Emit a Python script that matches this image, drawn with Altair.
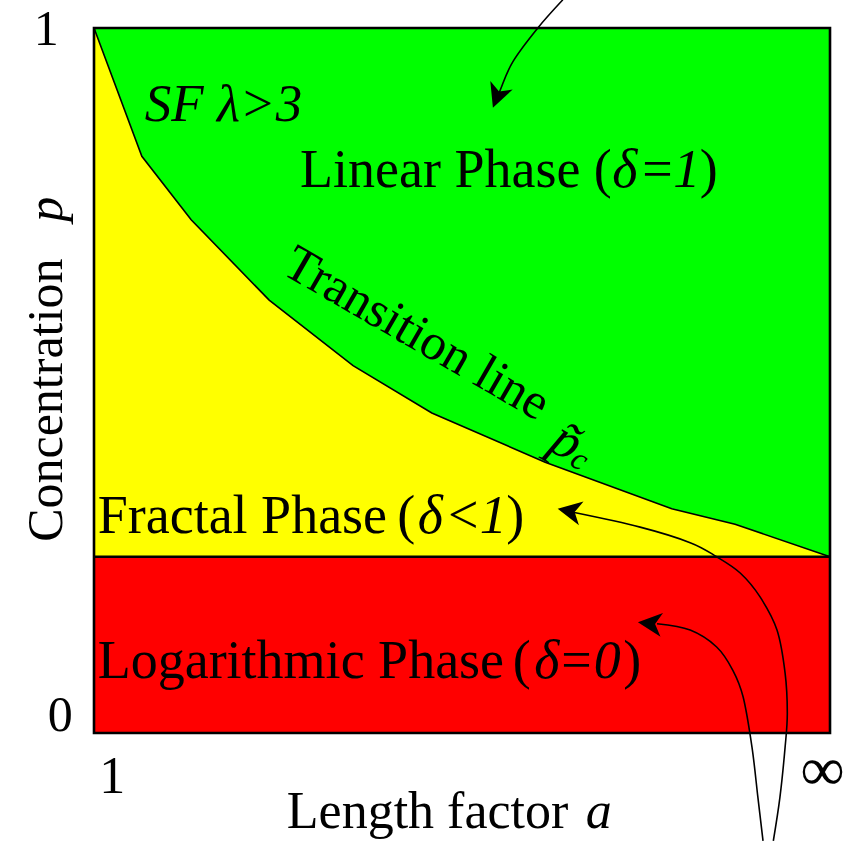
import altair as alt
import pandas as pd

# ---------------- data ----------------
length_factor = [0.0, 0.065, 0.132, 0.238, 0.352, 0.459, 0.613, 0.785, 0.871, 1.0]
transition_p = [1.0, 0.818, 0.728, 0.614, 0.521, 0.454, 0.384, 0.318, 0.296, 0.25]
log_phase_top = 0.25
x_range = [0.0, 1.0]
p_range = [0.0, 1.0]
x_tick_labels = ["1", "∞"]
y_tick_labels = ["0", "1"]

# annotation arrows (in data units of the axes)
arrow_top_x = [0.637, 0.603, 0.569, 0.552, 0.545]
arrow_top_p = [1.040, 1.000, 0.952, 0.912, 0.892]
arrow_frac_x = [0.923, 0.932, 0.939, 0.942, 0.939, 0.928, 0.905, 0.878, 0.846, 0.810, 0.742, 0.651]
arrow_frac_p = [-0.153, -0.091, -0.020, 0.028, 0.085, 0.146, 0.193, 0.227, 0.250, 0.270, 0.292, 0.313]
arrow_log_x = [0.909, 0.902, 0.894, 0.882, 0.868, 0.846, 0.810, 0.765]
arrow_log_p = [-0.153, -0.091, -0.020, 0.051, 0.089, 0.122, 0.146, 0.155]

FONT = "Liberation Serif"
W, H = 736, 705

xs = alt.Scale(domain=x_range, nice=False, zero=False)
ys = alt.Scale(domain=p_range, nice=False, zero=False)
one = pd.DataFrame({"k": [0]})


def xd(v):
    return alt.XDatum(v, scale=xs, axis=None)


def yd(v):
    return alt.YDatum(v, scale=ys, axis=None)


def label(text, x, p, size=54, align="left", baseline="alphabetic", style="normal", angle=0):
    return alt.Chart(one).mark_text(
        text=text, font=FONT, fontSize=size, align=align, baseline=baseline,
        fontStyle=style, angle=angle, color="black"
    ).encode(x=xd(x), y=yd(p))


def phrase(parts, p, size=54):
    # parts: list of (text, x, style)
    return [label(t, x, p, size=size, style=s) for t, x, s in parts]


def curve(xv, pv):
    df = pd.DataFrame({"x": xv, "p": pv, "i": list(range(len(xv)))})
    return alt.Chart(df).mark_line(interpolate="cardinal", color="black", strokeWidth=1.6).encode(
        x=alt.X("x:Q", scale=xs, axis=None),
        y=alt.Y("p:Q", scale=ys, axis=None),
        order="i:Q",
    )


HEAD = "M0,0 L-1,-0.5 L-0.72,0 L-1,0.5 Z"


def head(x, p, angle):
    return alt.Chart(one).mark_point(
        shape=HEAD, size=2300, angle=angle, filled=True, color="black", opacity=1, strokeWidth=0
    ).encode(x=xd(x), y=yd(p))


def rect_df(x0, x1, y0, y1):
    return pd.DataFrame({"x0": [x0], "x1": [x1], "y0": [y0], "y1": [y1]})


def region(df, color, **kw):
    return alt.Chart(df).mark_rect(color=color, **kw).encode(
        x=alt.X("x0:Q", scale=xs, axis=None), x2="x1:Q",
        y=alt.Y("y0:Q", scale=ys, axis=None), y2="y1:Q",
    )


green = region(rect_df(x_range[0], x_range[1], p_range[0], p_range[1]), "#00ff00")
red = region(rect_df(x_range[0], x_range[1], p_range[0], log_phase_top), "#ff0000")

trans_df = pd.DataFrame({"x": length_factor, "p": transition_p, "base": [log_phase_top] * len(length_factor)})
yellow = alt.Chart(trans_df).mark_area(color="#ffff00", opacity=1).encode(
    x=alt.X("x:Q", scale=xs, axis=None),
    y=alt.Y("p:Q", scale=ys, axis=None),
    y2="base:Q",
)
trans_line = alt.Chart(trans_df).mark_line(color="black", strokeWidth=1.6).encode(
    x=alt.X("x:Q", scale=xs, axis=None),
    y=alt.Y("p:Q", scale=ys, axis=None),
)
sep_line = alt.Chart(one).mark_rule(color="black", strokeWidth=2.5).encode(
    x=xd(x_range[0]), x2=alt.X2Datum(x_range[1]), y=yd(log_phase_top)
)
frame = region(rect_df(x_range[0], x_range[1], p_range[0], p_range[1]), "black",
               fill=None, filled=False, stroke="black", strokeWidth=2.6, fillOpacity=0)

texts = [
    label(y_tick_labels[1], -0.065, 0.976, size=50, align="center"),
    label(y_tick_labels[0], -0.046, 0.003, size=50, align="center"),
    label(x_tick_labels[0], 0.007, -0.085, size=52),
    label(x_tick_labels[1], 0.960, -0.081, size=62),
    label("Length factor", 0.262, -0.135, size=52),
    label("a", 0.668, -0.135, size=52, style="italic"),
    label("Concentration", -0.043, 0.472, size=50, align="center", angle=270),
    label("p", -0.043, 0.743, size=50, align="center", angle=270, style="italic"),
    label("SF λ>3", 0.069, 0.868, size=53, style="italic"),
    label("Transition line", 0.438, 0.566, align="center", baseline="middle", angle=30, size=51),
    label("p\u0303", 0.642, 0.413, align="center", baseline="middle", angle=30, size=54, style="italic"),
    label("c", 0.660, 0.388, align="center", baseline="middle", angle=30, size=32, style="italic"),
]
texts += phrase([("Linear Phase", 0.280, "normal"), ("(", 0.679, "normal"), ("δ", 0.704, "italic"),
                 ("=", 0.745, "normal"), ("1", 0.787, "italic"), (")", 0.823, "normal")], 0.774)
texts += phrase([("Fractal Phase", 0.005, "normal"), ("(", 0.412, "normal"), ("δ", 0.440, "italic"),
                 ("<", 0.481, "normal"), ("1", 0.524, "italic"), (")", 0.560, "normal")], 0.284)
texts += phrase([("Logarithmic Phase", 0.005, "normal"), ("(", 0.569, "normal"), ("δ", 0.598, "italic"),
                 ("=", 0.635, "normal"), ("0", 0.679, "italic"), (")", 0.719, "normal")], 0.078)

arrows = [
    curve(arrow_top_x, arrow_top_p), head(0.542, 0.887, 111),
    curve(arrow_frac_x, arrow_frac_p), head(0.630, 0.318, 191),
    curve(arrow_log_x, arrow_log_p), head(0.739, 0.157, 186),
]

chart = alt.layer(green, yellow, red, trans_line, sep_line, frame, *texts, *arrows).properties(
    width=W, height=H,
    autosize=alt.AutoSizeParams(type="none"),
    padding={"left": 94, "top": 28, "right": 14, "bottom": 108},
    background="white",
).configure_view(stroke=None)

chart.save("out.html", embed_options={"renderer": "svg", "actions": False})
